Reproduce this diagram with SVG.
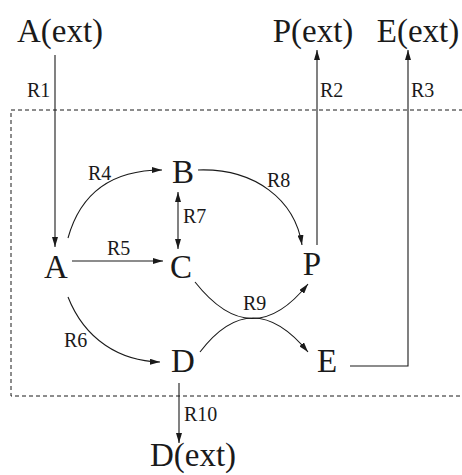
<svg xmlns="http://www.w3.org/2000/svg" width="462" height="475" viewBox="0 0 462 475">
<defs>
<marker id="ah" viewBox="0 0 10 6" refX="10" refY="3" markerWidth="10" markerHeight="6" markerUnits="userSpaceOnUse" orient="auto-start-reverse">
<path d="M0,0 L10,3 L0,6 Z" fill="#1a1a1a"/>
</marker>
<style>
.big{font-family:"Liberation Serif","Times New Roman",serif;font-size:33px;fill:#1a1a1a;text-anchor:middle}
.lbl{font-family:"Liberation Serif","Times New Roman",serif;font-size:20px;fill:#1a1a1a}
.c{fill:none;stroke:#1a1a1a;stroke-width:1.1}
.box{fill:none;stroke:#1a1a1a;stroke-width:1;stroke-dasharray:4,3}
</style>
</defs>
<rect width="462" height="475" fill="#fff"/>
<path class="box" d="M470,110 H11 V396 H470"/>
<g id="connectors">
<path class="c" d="M55,55 V247" marker-end="url(#ah)"/>
<path class="c" d="M317,245 V50" marker-end="url(#ah)"/>
<path class="c" d="M350,366 H408 V50" marker-end="url(#ah)"/>
<path class="c" d="M68,238 C80,195 110,170 162,170" marker-end="url(#ah)"/>
<path class="c" d="M72,261 H163" marker-end="url(#ah)"/>
<path class="c" d="M68,297 C85,340 120,361 160,362" marker-end="url(#ah)"/>
<path class="c" d="M178,192 V249" marker-start="url(#ah)" marker-end="url(#ah)"/>
<path class="c" d="M198,170 C255,168 295,200 302,245" marker-end="url(#ah)"/>
<path class="c" d="M195,282 Q252,354 308,284" marker-end="url(#ah)"/>
<path class="c" d="M200,352 Q252,284 308,352" marker-end="url(#ah)"/>
<path class="c" d="M179,383 V443" marker-end="url(#ah)"/>
</g>
<g id="labels">
<text class="lbl" x="27" y="97">R1</text>
<text class="lbl" x="320" y="97">R2</text>
<text class="lbl" x="411" y="97">R3</text>
<text class="lbl" x="88" y="180">R4</text>
<text class="lbl" x="107" y="255">R5</text>
<text class="lbl" x="64" y="347">R6</text>
<text class="lbl" x="183" y="223">R7</text>
<text class="lbl" x="267" y="187">R8</text>
<text class="lbl" x="243" y="310">R9</text>
<text class="lbl" x="184" y="421">R10</text>
</g>
<g id="Aext"><text class="big" x="60" y="42">A(ext)</text></g>
<g id="Pext"><text class="big" x="313" y="42">P(ext)</text></g>
<g id="Eext"><text class="big" x="418" y="42">E(ext)</text></g>
<g id="Dext"><text class="big" x="193" y="466">D(ext)</text></g>
<g id="A"><text class="big" x="56" y="278">A</text></g>
<g id="B"><text class="big" x="183" y="183">B</text></g>
<g id="C"><text class="big" x="181" y="278">C</text></g>
<g id="D"><text class="big" x="183" y="372">D</text></g>
<g id="P"><text class="big" x="312" y="275">P</text></g>
<g id="E"><text class="big" x="327" y="372">E</text></g>
</svg>
